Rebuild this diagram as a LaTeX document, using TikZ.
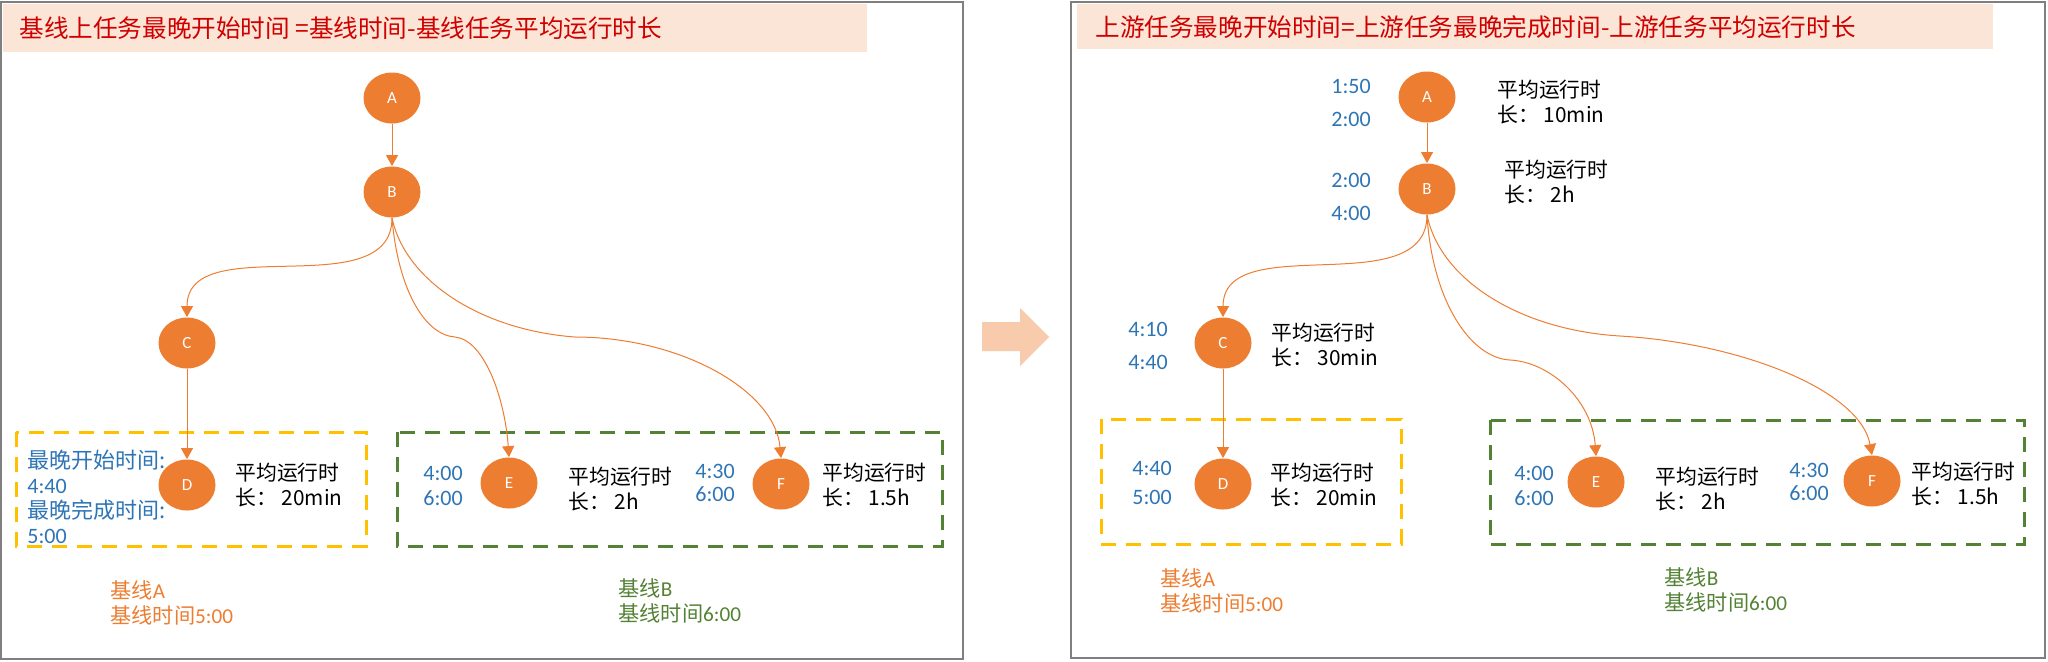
\documentclass[tikz,border=0pt]{standalone}
\usepackage{fontspec}
\setmainfont{Carlito}
\newfontfamily\cjk{Noto Sans CJK SC}
\usetikzlibrary{positioning, shapes.geometric, arrows.meta}

\definecolor{taskorange}{HTML}{ED7D31}
\definecolor{timeblue}{HTML}{2E75B6}
\definecolor{lineyellow}{HTML}{FFC000}
\definecolor{linegreen}{HTML}{548235}
\definecolor{headfill}{HTML}{FBE5D6}
\definecolor{headred}{HTML}{D00000}
\definecolor{arrowfill}{HTML}{F8CBAD}
\definecolor{framegray}{HTML}{7F7F7F}

\begin{document}
\begin{tikzpicture}[x=0.5pt, y=-0.5pt,
    task/.style = {ellipse, fill=taskorange, text=white, minimum width=28.5pt, minimum height=25.5pt, inner sep=0pt, font=\fontsize{8.5}{10}\selectfont},
    times/.style = {anchor=west, align=left, inner sep=0pt, text=timeblue, font=\fontsize{11}{12.5}\selectfont},
    runtime/.style = {anchor=west, align=left, inner sep=0pt, font=\cjk\fontsize{10.4}{12.5}\selectfont},
    heading/.style = {anchor=west, inner sep=0pt, text=headred, font=\cjk\fontsize{12.3}{14}\selectfont},
    grouplabel/.style = {anchor=west, align=left, inner sep=0pt, font=\fontsize{10.6}{12.5}\selectfont},
    groupbox/.style = {line width=1.5pt, dash pattern=on 7.5pt off 5pt},
    flow/.style = {draw=taskorange, line width=0.5pt, -{Triangle[length=5.5pt, width=6pt]}},
    frame/.style = {draw=framegray, line width=1pt}]

\useasboundingbox (0,0) rectangle (2048,661);

\draw[frame] (1,2) rectangle (963,659);
\draw[frame] (1071,2) rectangle (2045,658);

\fill[headfill] (3,4) rectangle (867,52);
\node[heading] (lhead) at (19,28) {基线上任务最晚开始时间 =基线时间-基线任务平均运行时长};

\fill[headfill] (1077,4) rectangle (1993,49);
\node[heading] (rhead) at (1095,27) {上游任务最晚开始时间=上游任务最晚完成时间-上游任务平均运行时长};

\fill[arrowfill] (982,322) -- (1020,322) -- (1020,308) -- (1049,337) -- (1020,366) -- (1020,351) -- (982,351) -- cycle;


\draw[groupbox, lineyellow] (16,432) rectangle (366,546);
\draw[groupbox, linegreen] (397,432) rectangle (942,546);

\node[task] (lA) at (392,98) {A};
\node[task] (lB) at (392,192) {B};
\node[task] (lC) at (187,343) {C};
\node[task] (lD) at (187,485) {D};
\node[task] (lE) at (509,483) {E};
\node[task] (lF) at (781,484) {F};

\draw[flow] (lA) -- (lB);
\draw[flow] (lB.south) to[out=-90, in=90] (lC.north);
\draw[flow] (lC) -- (lD);
\draw[flow] (lB.south) .. controls (398,290) and (425,335) .. (455,337) .. controls (485,340) and (505,400) .. (lE.north);
\draw[flow] (lB.south) .. controls (405,280) and (480,330) .. (575,337) .. controls (680,337) and (775,390) .. (lF.north);

\node[times] (lDtime) at (27,497) {{\cjk 最晚开始时间:}\\4:40\\{\cjk 最晚完成时间:}\\5:00};
\node[runtime] (lDrun) at (235,485.5) {平均运行时\\长：~20min};
\node[times] (lEtime) at (423,485.5) {4:00\\6:00};
\node[runtime] (lErun) at (568,489.5) {平均运行时\\长：~2h};
\node[times] (lFtime) at (695,482.5) {4:30\\[-1pt]6:00};
\node[runtime] (lFrun) at (822,485.5) {平均运行时\\长：~1.5h};

\node[grouplabel, text=taskorange] (lbaseA) at (110,602.5) {{\cjk 基线}A\\{\cjk 基线时间}5:00};
\node[grouplabel, text=linegreen] (lbaseB) at (618,600.5) {{\cjk 基线}B\\{\cjk 基线时间}6:00};


\draw[groupbox, lineyellow] (1101,419) rectangle (1401,544);
\draw[groupbox, linegreen] (1490,420) rectangle (2024,544);

\node[task] (rA) at (1427,97) {A};
\node[task] (rB) at (1427,189) {B};
\node[task] (rC) at (1223,343) {C};
\node[task] (rD) at (1223,484) {D};
\node[task] (rE) at (1596,482) {E};
\node[task] (rF) at (1872,481) {F};

\draw[flow] (rA) -- (rB);
\draw[flow] (rB.south) to[out=-90, in=90] (rC.north);
\draw[flow] (rC) -- (rD);
\draw[flow] (rB.south) .. controls (1432,300) and (1470,358) .. (1510,360) .. controls (1550,362) and (1592,400) .. (rE.north);
\draw[flow] (rB.south) .. controls (1440,280) and (1520,330) .. (1620,336) .. controls (1740,343) and (1860,390) .. (rF.north);

\node[times] (rAtime) at (1331,102.5) {1:50\\[4pt]2:00};
\node[runtime] (rArun) at (1497,102) {平均运行时\\长：~10min};
\node[times] (rBtime) at (1331,196.5) {2:00\\[4pt]4:00};
\node[runtime] (rBrun) at (1504,182.5) {平均运行时\\长：~2h};
\node[times] (rCtime) at (1128,345.5) {4:10\\[4pt]4:40};
\node[runtime] (rCrun) at (1271,345) {平均运行时\\长：~30min};
\node[times] (rDtime) at (1132,482.5) {4:40\\[2pt]5:00};
\node[runtime] (rDrun) at (1270,485) {平均运行时\\长：~20min};
\node[times] (rEtime) at (1514,485.5) {4:00\\6:00};
\node[runtime] (rErun) at (1655,489) {平均运行时\\长：~2h};
\node[times] (rFtime) at (1789,481.5) {4:30\\[-1pt]6:00};
\node[runtime] (rFrun) at (1911,484.5) {平均运行时\\长：~1.5h};

\node[grouplabel, text=taskorange] (rbaseA) at (1160,591) {{\cjk 基线}A\\{\cjk 基线时间}5:00};
\node[grouplabel, text=linegreen] (rbaseB) at (1664,589.5) {{\cjk 基线}B\\{\cjk 基线时间}6:00};

\end{tikzpicture}
\end{document}
